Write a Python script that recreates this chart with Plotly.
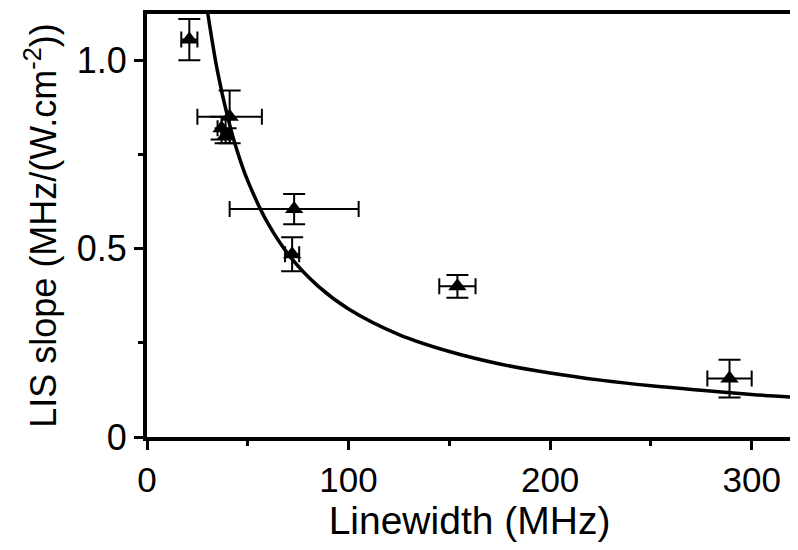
import plotly.graph_objects as go

# Data
linewidth = [21, 37, 39, 41, 73, 72, 154, 289]
linewidth_err = [4, 2, 2, 16, 32, 3.5, 9, 11]
lis_slope = [1.055, 0.82, 0.80, 0.85, 0.605, 0.485, 0.40, 0.155]
lis_slope_err = [0.055, 0.03, 0.02, 0.07, 0.04, 0.045, 0.03, 0.05]

# Fitted curve
fit_x = [30, 35, 40, 45, 50, 60, 72, 85, 100, 125, 150, 175, 200, 225, 250, 275, 300, 320]
fit_y = [1.13, 0.97, 0.85, 0.755, 0.68, 0.567, 0.472, 0.40, 0.34, 0.272, 0.227, 0.194, 0.17, 0.151, 0.136, 0.124, 0.113, 0.106]

x_ticks = [0, 100, 200, 300]
y_ticks = [0, 0.5, 1.0]
y_tick_labels = ["0", "0.5", "1.0"]

fig = go.Figure()
fig.add_trace(go.Scatter(
    x=fit_x, y=fit_y, mode="lines",
    line=dict(color="black", width=3.5, shape="spline"),
    showlegend=False, hoverinfo="skip"))
fig.add_trace(go.Scatter(
    x=linewidth, y=lis_slope, mode="markers",
    marker=dict(symbol="triangle-up", size=16, color="black"),
    error_x=dict(type="data", array=linewidth_err, color="black", thickness=2, width=8),
    error_y=dict(type="data", array=lis_slope_err, color="black", thickness=2, width=11),
    showlegend=False))

font_family = "Liberation Sans, Arial, sans-serif"
fig.update_layout(
    width=790, height=542,
    margin=dict(l=139, r=3, t=2, b=113),
    paper_bgcolor="white", plot_bgcolor="white",
    font=dict(family=font_family, color="black"),
    xaxis=dict(
        range=[0, 320], tickvals=x_ticks, ticks="outside", ticklen=9, tickwidth=3,
        tickcolor="black", showline=True, linewidth=4, linecolor="black", mirror=True,
        showgrid=False, zeroline=False, tickfont=dict(size=35),
        minor=dict(tickvals=[50, 150, 250], ticks="outside", ticklen=5, tickwidth=3, tickcolor="black"),
        title=dict(text="Linewidth (MHz)", font=dict(size=39), standoff=6)),
    yaxis=dict(
        range=[0, 1.123], tickvals=y_ticks, ticktext=y_tick_labels, ticks="outside", ticklen=9,
        tickwidth=3, tickcolor="black", showline=True, linewidth=4, linecolor="black", mirror=True,
        showgrid=False, zeroline=False, tickfont=dict(size=36),
        minor=dict(tickvals=[0.25, 0.75], ticks="outside", ticklen=5, tickwidth=3, tickcolor="black"),
        title=dict(text="LIS slope (MHz/(W.cm<sup>-2</sup>))", font=dict(size=36), standoff=10)),
)

fig.write_html("out.html")
